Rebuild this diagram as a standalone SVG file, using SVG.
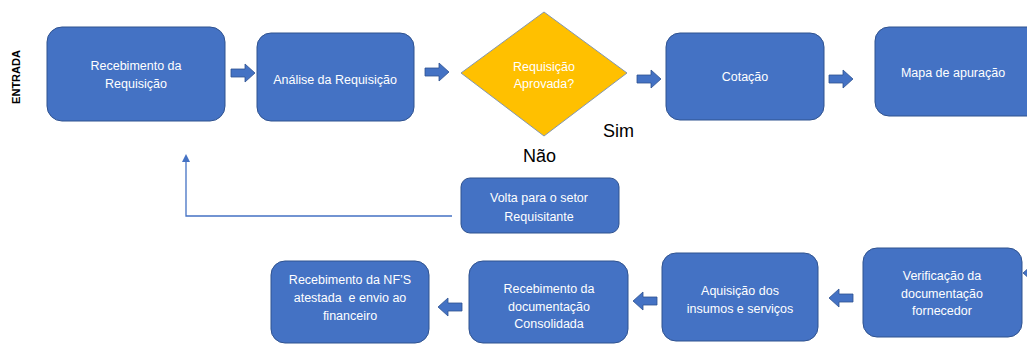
<svg xmlns="http://www.w3.org/2000/svg" width="1027" height="345" viewBox="0 0 1027 345">
<style>
.box{fill:#4472C4;stroke:#2F528F;stroke-width:1}
.t{font-family:"Liberation Sans",Arial,sans-serif;font-size:12.5px;fill:#FFFFFF;text-anchor:middle}
.lbl{font-family:"Liberation Sans",Arial,sans-serif;font-size:18px;fill:#000000}
.arr{fill:#4472C4;stroke:#2F528F;stroke-width:0.8}
.conn{fill:none;stroke:#4472C4;stroke-width:1.3}
</style>
<defs>
<path id="ra" d="M0,5 H14 V0 L24,9 L14,18 V13 H0 Z"/>
<marker id="ah" markerWidth="8" markerHeight="8" refX="4" refY="4" orient="auto" markerUnits="userSpaceOnUse">
<path d="M0,0 L8,4 L0,8 Z" fill="#4472C4"/>
</marker>
</defs>
<rect width="1027" height="345" fill="#FFFFFF"/>
<text x="16" y="77" transform="rotate(-90 16 77)" font-family="Liberation Sans, Arial, sans-serif" font-size="11" font-weight="bold" fill="#000" text-anchor="middle" dominant-baseline="central">ENTRADA</text>

<g id="n1"><rect class="box" x="47" y="27" width="178" height="94" rx="15"/>
<text class="t" x="136" y="69.5">Recebimento da</text><text class="t" x="136" y="87.5">Requisição</text></g>
<g id="n2"><rect class="box" x="257" y="33" width="157" height="88" rx="14"/>
<text class="t" x="335" y="83.5">Análise da Requisição</text></g>
<g id="n3"><polygon points="461,73 544,12 627,73 544,136" fill="#FFC000" stroke="#8497B0" stroke-width="1"/>
<text class="t" x="544" y="70.5">Requisição</text><text class="t" x="544" y="87.5">Aprovada?</text></g>
<g id="n4"><rect class="box" x="666" y="33" width="158" height="87" rx="14"/>
<text class="t" x="745" y="81">Cotação</text></g>
<g id="n5"><rect class="box" x="875" y="27" width="170" height="89" rx="14"/>
<text class="t" x="953" y="76.5">Mapa de apuração</text></g>
<g id="n6"><rect class="box" x="461" y="178" width="158" height="55" rx="9"/>
<text class="t" x="539" y="201.5">Volta para o setor</text><text class="t" x="539" y="220.5">Requisitante</text></g>
<g id="n7"><rect class="box" x="863" y="248" width="159" height="89" rx="14"/>
<text class="t" x="942" y="279.5">Verificação da</text><text class="t" x="942" y="297.5">documentação</text><text class="t" x="942" y="314.5">fornecedor</text></g>
<g id="n8"><rect class="box" x="662" y="253" width="156" height="88" rx="14"/>
<text class="t" x="740" y="294.5">Aquisição dos</text><text class="t" x="740" y="312.5">insumos e serviços</text></g>
<g id="n9"><rect class="box" x="469" y="261" width="159" height="82" rx="14"/>
<text class="t" x="549" y="292.5">Recebimento da</text><text class="t" x="549" y="310.5">documentação</text><text class="t" x="549" y="327.5">Consolidada</text></g>
<g id="n10"><rect class="box" x="271" y="261" width="158" height="82" rx="14"/>
<text class="t" x="350" y="283.5">Recebimento da NF’S</text><text class="t" x="350" y="301.5" xml:space="preserve">atestada  e envio ao</text><text class="t" x="350" y="319.5">financeiro</text></g>

<text class="lbl" x="603" y="137">Sim</text>
<text class="lbl" x="523" y="162">Não</text>

<g id="connectors">
<use href="#ra" class="arr" transform="translate(231,64)"/>
<use href="#ra" class="arr" transform="translate(425,63)"/>
<use href="#ra" class="arr" transform="translate(637,70)"/>
<use href="#ra" class="arr" transform="translate(829,70)"/>
<use href="#ra" class="arr" transform="translate(1047,282) scale(-1,-1)"/>
<use href="#ra" class="arr" transform="translate(853,307) scale(-1,-1)"/>
<use href="#ra" class="arr" transform="translate(657,310) scale(-1,-1)"/>
<use href="#ra" class="arr" transform="translate(462,316) scale(-1,-1)"/>
<path class="conn" d="M452,216 H186 V158" marker-end="url(#ah)"/>
</g>
</svg>
